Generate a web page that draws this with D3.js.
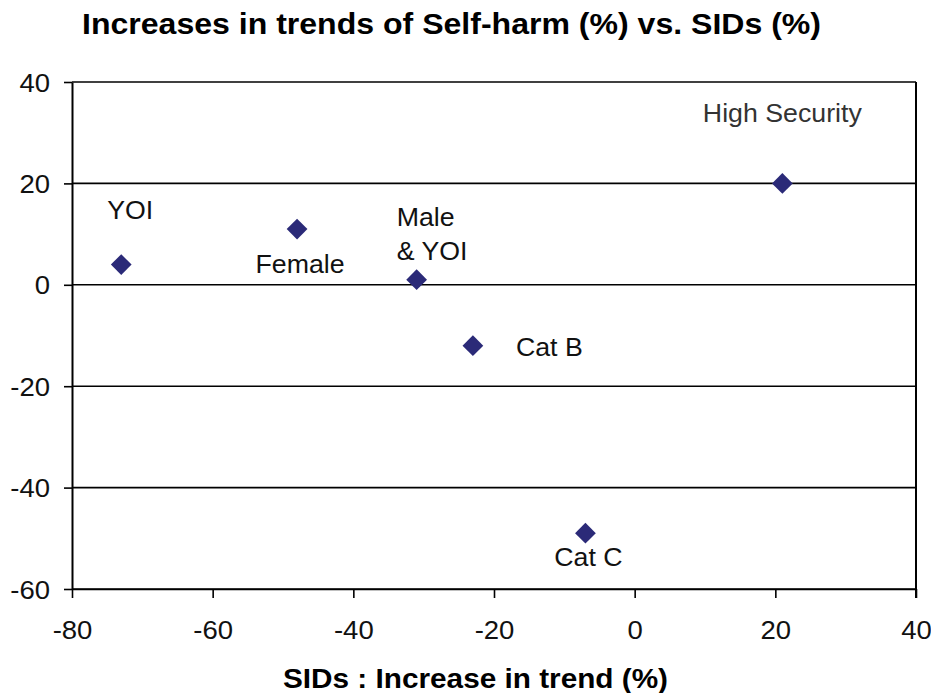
<!DOCTYPE html>
<html>
<head>
<meta charset="utf-8">
<script src="https://cdn.jsdelivr.net/npm/d3@7/dist/d3.min.js"></script>
<style>
  html, body { margin: 0; padding: 0; background: #fff; }
  svg { display: block; font-family: "Liberation Sans", Arial, Helvetica, sans-serif; }
</style>
</head>
<body>
<svg id="chart" width="931" height="693"></svg>
<script>
// ---- data ----
const names   = ["YOI", "Female", "Male & YOI", "Cat B", "Cat C", "High Security"];
const sidsVal = [-73, -48, -31, -23, -7, 21];     // x: SIDs increase in trend (%)
const harmVal = [4, 11, 1, -12, -49, 20];         // y: Self-harm increase (%)
const xTicks  = [-80, -60, -40, -20, 0, 20, 40];
const yTicks  = [-60, -40, -20, 0, 20, 40];
const titleText = "Increases in trends of Self-harm (%) vs. SIDs (%)";
const xTitleText = "SIDs : Increase in trend (%)";

// ---- layout (label placement relative to point, in px) ----
const labelLayout = {
  "YOI":           {lines: ["YOI"], dx: -14, dy: -46, anchor: "start"},
  "Female":        {lines: ["Female"], dx: 3, dy: 44, anchor: "middle"},
  "Male & YOI":    {lines: ["Male", "& YOI"], dx: -20, dy: -54, anchor: "start", lh: 34},
  "Cat B":         {lines: ["Cat B"], dx: 43, dy: 10, anchor: "start"},
  "Cat C":         {lines: ["Cat C"], dx: 3, dy: 33, anchor: "middle"},
  "High Security": {lines: ["High Security"], dx: 0, dy: -61, anchor: "middle", color: "#333"}
};

const svg = d3.select("#chart");
const L = 72, R = 916, T = 82, B = 589;
const x = d3.scaleLinear().domain([-80, 40]).range([L, R]);
const y = d3.scaleLinear().domain([-60, 40]).range([B, T]);
const SX = 1.1; // horizontal glyph stretch

// gridlines
svg.append("g").selectAll("line").data(yTicks).join("line")
  .attr("x1", L).attr("x2", R)
  .attr("y1", d => y(d)).attr("y2", d => y(d))
  .attr("stroke", "#000").attr("stroke-width", 1.6);

// right border
svg.append("line").attr("x1", R).attr("x2", R).attr("y1", T).attr("y2", B + 9)
  .attr("stroke", "#000").attr("stroke-width", 2);

// y axis
const yAxis = svg.append("g").attr("transform", `translate(${L},0)`)
  .call(d3.axisLeft(y).tickValues(yTicks).tickSize(8).tickSizeOuter(0).tickFormat(d3.format("d")));
yAxis.select(".domain").attr("stroke", "#000").attr("stroke-width", 2);
yAxis.selectAll(".tick line").attr("stroke", "#000").attr("stroke-width", 1.6);
yAxis.selectAll(".tick text").remove();
yAxis.selectAll(".tick").append("text")
  .attr("text-anchor", "end").attr("fill", "#111")
  .attr("font-size", 25)
  .attr("transform", `translate(-22,9) scale(${SX},1)`)
  .text(d => d);

// x axis
const xAxis = svg.append("g").attr("transform", `translate(0,${B})`)
  .call(d3.axisBottom(x).tickValues(xTicks).tickSize(9).tickSizeOuter(0).tickFormat(d3.format("d")));
xAxis.select(".domain").attr("stroke", "#000").attr("stroke-width", 1.6);
xAxis.selectAll(".tick line").attr("stroke", "#000").attr("stroke-width", 1.6);
xAxis.selectAll(".tick text").remove();
xAxis.selectAll(".tick").append("text")
  .attr("text-anchor", "middle").attr("fill", "#111")
  .attr("font-size", 25)
  .attr("transform", `translate(0,50) scale(${SX},1)`)
  .text(d => d);

// points
const pts = names.map((n, i) => ({name: n, x: sidsVal[i], y: harmVal[i]}));
const diamond = d3.symbol().type(d3.symbolSquare).size(215);
svg.append("g").selectAll("path").data(pts).join("path")
  .attr("d", diamond)
  .attr("transform", d => `translate(${x(d.x)},${y(d.y)}) rotate(45)`)
  .attr("fill", "#2b2a78");

// labels
const lg = svg.append("g");
pts.forEach(p => {
  const lay = labelLayout[p.name];
  lay.lines.forEach((line, j) => {
    lg.append("text")
      .attr("text-anchor", lay.anchor)
      .attr("font-size", 25)
      .attr("fill", lay.color || "#111")
      .attr("transform", `translate(${x(p.x) + lay.dx},${y(p.y) + lay.dy + j * (lay.lh || 0)}) scale(1.07,1)`)
      .text(line);
  });
});

// titles
svg.append("text")
  .attr("x", 82).attr("y", 34)
  .attr("font-size", 30).attr("font-weight", "bold").attr("fill", "#000")
  .attr("textLength", 739).attr("lengthAdjust", "spacingAndGlyphs")
  .text(titleText);

svg.append("text")
  .attr("x", 283).attr("y", 688)
  .attr("font-size", 27).attr("font-weight", "bold").attr("fill", "#000")
  .attr("textLength", 385).attr("lengthAdjust", "spacingAndGlyphs")
  .text(xTitleText);
</script>
</body>
</html>
